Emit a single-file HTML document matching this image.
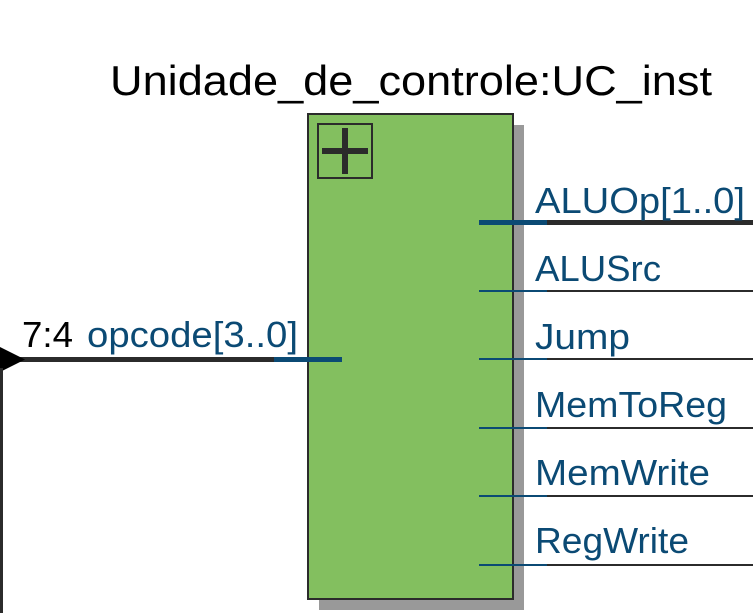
<!DOCTYPE html>
<html><head><meta charset="utf-8"><style>
html,body{margin:0;padding:0;background:#fff;}
svg{display:block;}
text{font-family:"Liberation Sans",sans-serif;}
</style></head><body>
<svg width="753" height="613" viewBox="0 0 753 613" xmlns="http://www.w3.org/2000/svg">
<text x="110" y="95" font-size="42" fill="#000" textLength="602" lengthAdjust="spacingAndGlyphs">Unidade_de_controle:UC_inst</text>
<rect x="319" y="125" width="205" height="485" fill="#999"/>
<rect x="308" y="114" width="205" height="485" fill="#83bf5f" stroke="#2b2b2b" stroke-width="2"/>
<rect x="318" y="124" width="54" height="54" fill="none" stroke="#2b2b2b" stroke-width="2"/>
<rect x="322" y="148" width="46" height="6" fill="#2b2b2b"/>
<rect x="342" y="128" width="6" height="46" fill="#2b2b2b"/>
<rect x="547" y="220" width="206" height="5" fill="#2b2b2b"/>
<rect x="479" y="220" width="68" height="5" fill="#0b4a74"/>
<g>
<rect x="547" y="290" width="206" height="2" fill="#2b2b2b"/><rect x="479" y="290" width="68" height="2" fill="#0b4a74"/>
<rect x="547" y="358" width="206" height="2" fill="#2b2b2b"/><rect x="479" y="358" width="68" height="2" fill="#0b4a74"/>
<rect x="547" y="427" width="206" height="2" fill="#2b2b2b"/><rect x="479" y="427" width="68" height="2" fill="#0b4a74"/>
<rect x="547" y="495" width="206" height="2" fill="#2b2b2b"/><rect x="479" y="495" width="68" height="2" fill="#0b4a74"/>
<rect x="547" y="564" width="206" height="2" fill="#2b2b2b"/><rect x="479" y="564" width="68" height="2" fill="#0b4a74"/>
</g>
<g fill="#0b4a74" font-size="36">
<text x="535" y="213" textLength="210" lengthAdjust="spacingAndGlyphs">ALUOp[1..0]</text>
<text x="535" y="281" textLength="126" lengthAdjust="spacingAndGlyphs">ALUSrc</text>
<text x="535" y="349" textLength="95" lengthAdjust="spacingAndGlyphs">Jump</text>
<text x="535" y="417" textLength="192" lengthAdjust="spacingAndGlyphs">MemToReg</text>
<text x="535" y="485" textLength="175" lengthAdjust="spacingAndGlyphs">MemWrite</text>
<text x="535" y="553" textLength="154" lengthAdjust="spacingAndGlyphs">RegWrite</text>
</g>
<rect x="20" y="357" width="255" height="5" fill="#2b2b2b"/>
<rect x="274" y="357" width="68" height="5" fill="#0b4a74"/>
<polygon points="0,347 25,359.5 0,372" fill="#000"/>
<rect x="0" y="368" width="3" height="245" fill="#2b2b2b"/>
<text x="22" y="347" font-size="36" fill="#000" textLength="51" lengthAdjust="spacingAndGlyphs">7:4</text>
<text x="87" y="347" font-size="36" fill="#0b4a74" textLength="211" lengthAdjust="spacingAndGlyphs">opcode[3..0]</text>
</svg>
</body></html>
